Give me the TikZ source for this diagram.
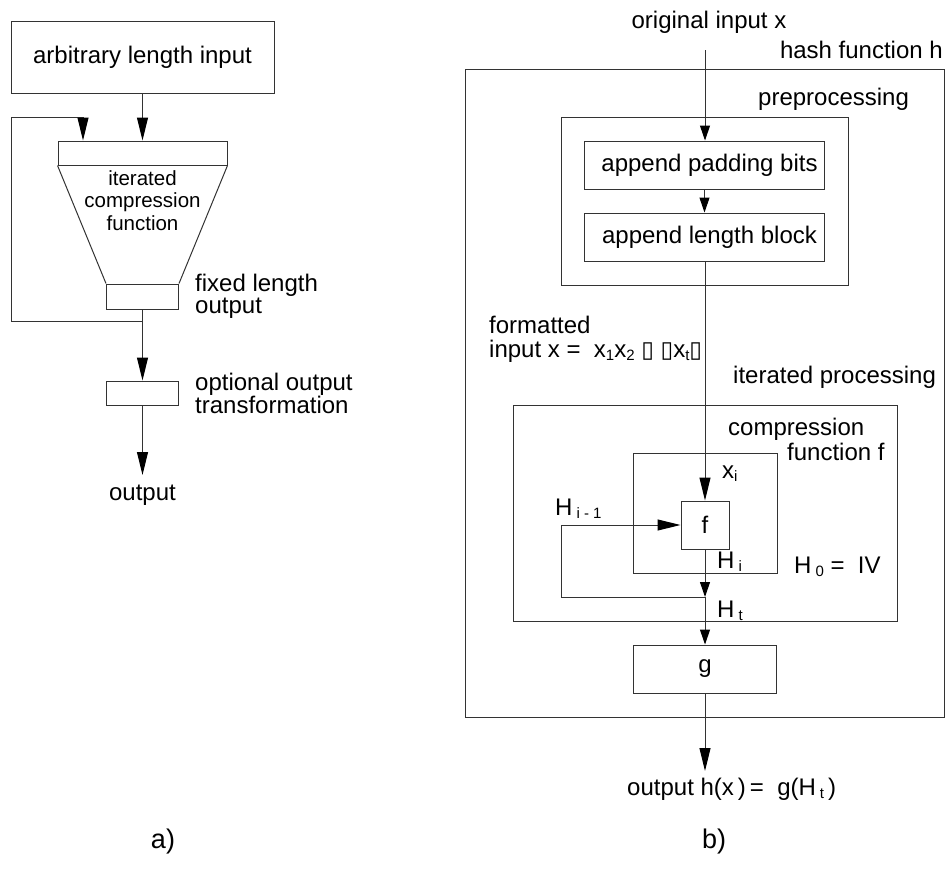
\documentclass[tikz,border=0pt]{standalone}
\usepackage{fontspec}
\setmainfont{Liberation Sans}
\newfontfamily\glyphfont{DejaVu Sans}
\usetikzlibrary{arrows.meta}
\definecolor{ink}{gray}{0.2}
% lowered small index, as in H_i
\newcommand\lowidx[1]{\raisebox{-3.5pt}{\fontsize{15}{15}\selectfont #1}}
% placeholder glyph box
\newcommand\gbox{{\glyphfont\fontsize{23}{23}\selectfont ▯}}

\begin{document}
\begin{tikzpicture}[x=1pt,y=-1pt,
  box/.style={draw=ink, line width=1pt, inner sep=0pt, text=black,
    font=\fontsize{24}{24}\selectfont},
  lbl/.style={inner sep=0pt, anchor=base west, text=black,
    font=\fontsize{24}{24}\selectfont},
  lblc/.style={lbl, anchor=base},
  small/.style={lblc, font=\fontsize{20.5}{20.5}\selectfont},
  wire/.style={draw=ink, line width=1pt},
  flow/.style={wire, -{Triangle[length=23pt,width=11pt,color=black]}},
  flowshort/.style={wire, -{Triangle[length=15pt,width=10pt,color=black]}}]
\useasboundingbox (0,0) rectangle (945,870);

% ---------------- a) generic iterated hash ----------------
\node[box, minimum width=263, minimum height=72] (inbox) at (142.5,57) {arbitrary length input};
\node[box, minimum width=169, minimum height=24] (itop) at (142.5,153) {};
\node[box, minimum width=72, minimum height=25] (ibot) at (142.5,296.5) {};
\draw[wire] (itop.south west) -- (ibot.north west);
\draw[wire] (itop.south east) -- (ibot.north east);
\node[small] (it1) at (142.5,185) {iterated};
\node[small] (it2) at (142.5,207.5) {compression};
\node[small] (it3) at (142.5,230) {function};
\node[lbl] (fx1) at (195,291) {fixed length};
\node[lbl] (fx2) at (195,313) {output};
\node[box, minimum width=72, minimum height=24] (optbox) at (142.5,393) {};
\node[lbl] (op1) at (195,390) {optional output};
\node[lbl] (op2) at (195,413) {transformation};
\node[lblc] (outl) at (142.5,500) {output};
\node[lblc, font=\fontsize{27}{27}\selectfont] (capa) at (163,848) {a)};

\draw[flow] (inbox) -- (itop);
\coordinate (lj) at (142.5,321);
\coordinate (lc1) at (11,321);
\coordinate (lc2) at (11,117);
\coordinate (lc3) at (83,117);
\draw[flow] (lj) -- (lc1) -- (lc2) -- (lc3) -- (lc3 |- itop.north);
\draw[flow] (ibot) -- (optbox);
\coordinate (outtip) at (142.5,475);
\draw[flow] (optbox) -- (outtip);

% ---------------- b) hash function h ----------------
\node[box, minimum width=479, minimum height=648] (outer) at (704.5,393) {};
\node[box, minimum width=287, minimum height=168] (pre) at (704.5,201) {};
\node[box, minimum width=240, minimum height=48] (pad) at (704.5,165) {\hspace{10pt}append padding bits};
\node[box, minimum width=240, minimum height=48] (len) at (704.5,237) {\hspace{10pt}append length block};
\node[box, minimum width=384, minimum height=216] (iter) at (705,513) {};
\node[box, minimum width=144, minimum height=120] (comp) at (705,513) {};
\node[box, minimum width=48, minimum height=48] (fbox) at (705,525) {f};
\node[box, minimum width=143, minimum height=48] (gbox) at (705,669) {g};

\node[lblc] (orig) at (709,28) {original input x};
\node[lbl, anchor=base east] (hashh) at (943,58) {hash function h};
\node[lbl] (prep) at (758,105) {preprocessing};
\node[lbl] (fmt1) at (489,333) {formatted};
\node[lbl] (fmt2) at (489,357) {input x =\ \ x\lowidx{1}x\lowidx{2}\ \gbox\ \gbox x\lowidx{t}\gbox};
\node[lbl] (itp) at (733,383) {iterated processing};
\node[lbl] (cf1) at (728,435) {compression};
\node[lbl] (cf2) at (787,460) {function f};
\node[lbl] (xi) at (722,478) {x\lowidx{i}};
\node[lbl] (hprev) at (555,515) {H\,\lowidx{i - 1}};
\node[lbl] (hi) at (717,568) {H\,\lowidx{i}};
\node[lbl] (h0) at (794,573) {H\,\lowidx{0}\ =\ \ IV};
\node[lbl] (ht) at (717,617) {H\,\lowidx{t}};
\node[lbl] (outr) at (627,795) {output h(x\,)\,=\ \ g(H\,\lowidx{t}\,)};
\node[lblc, font=\fontsize{27}{27}\selectfont] (capb) at (714,848) {b)};

\coordinate (intop) at (705,50);
\draw[flowshort] (intop) -- (pad.north -| intop);
\draw[flowshort] (pad) -- (len);
\draw[flow] (len.south -| fbox) -- (fbox);
\coordinate (hj) at (705,597);
\coordinate (hl1) at (561,597);
\coordinate (hl2) at (561,525);
\draw[flowshort] (fbox) -- (hj);
\draw[flow] (hj) -- (hl1) -- (hl2) -- (fbox.west);
\draw[flowshort] (hj) -- (gbox);
\coordinate (outtipr) at (705,771);
\draw[flow] (gbox) -- (outtipr);
\end{tikzpicture}
\end{document}
